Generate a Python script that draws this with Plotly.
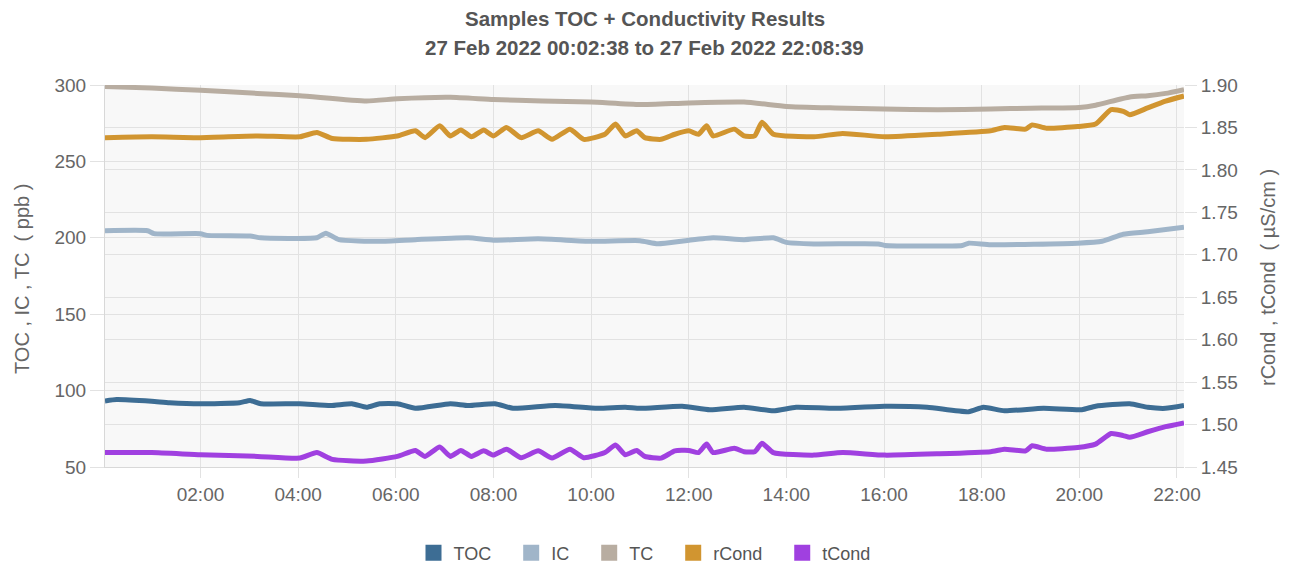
import plotly.graph_objects as go

DAY = "2022-02-27 "

cond_time = ["00:02:38","01:00","02:00","03:10","04:02","04:23","04:42","05:24","06:02","06:24",
             "06:36","06:54","07:07","07:20","07:33","07:48","08:00","08:16","08:34","08:55",
             "09:12","09:34","09:51","10:17","10:30","10:42","10:56","11:06","11:26","11:43",
             "12:00","12:12","12:22","12:30","12:56","13:08","13:21","13:30","13:44","14:34",
             "15:09","16:01","17:06","18:11","18:28","18:54","19:02","19:20","19:58","20:20",
             "20:39","20:54","21:02","21:24","21:46","22:08:39"]
rcond = [1.838,1.839,1.838,1.840,1.839,1.844,1.837,1.836,1.840,1.846,
         1.838,1.852,1.840,1.847,1.839,1.847,1.840,1.850,1.838,1.846,
         1.836,1.848,1.836,1.842,1.854,1.840,1.846,1.838,1.836,1.842,
         1.846,1.842,1.852,1.840,1.848,1.840,1.840,1.856,1.842,1.839,
         1.843,1.839,1.842,1.846,1.850,1.848,1.853,1.849,1.851,1.854,
         1.871,1.869,1.865,1.873,1.881,1.887]
tcond = [1.467,1.467,1.4645,1.4625,1.4605,1.467,1.459,1.457,1.4625,1.4695,
         1.4625,1.4735,1.4625,1.4695,1.4625,1.469,1.464,1.471,1.461,1.469,
         1.4605,1.471,1.461,1.467,1.476,1.4645,1.4695,1.4625,1.4605,1.469,
         1.4695,1.467,1.477,1.467,1.472,1.468,1.468,1.478,1.467,1.464,
         1.467,1.464,1.4655,1.468,1.471,1.469,1.475,1.471,1.473,1.477,
         1.4895,1.487,1.485,1.4915,1.4975,1.502]

toc_time = ["00:02:38","00:17","01:00","01:22","02:00","02:48","03:01","03:14","04:02","04:40",
            "05:06","05:24","05:40","06:02","06:24","07:07","07:29","08:02","08:24","09:16",
            "10:08","10:42","11:00","11:52","12:26","13:08","13:44","14:12","15:00","16:01",
            "16:53","17:44","18:02","18:28","19:16","20:03","20:20","21:02","21:24","21:46",
            "22:08:39"]
toc = [93.2,94.1,93.0,92.1,91.4,92.1,93.6,91.4,91.4,90.2,
       91.4,89.1,91.4,91.4,88.4,91.4,90.2,91.4,88.4,90.2,
       88.4,89.1,88.4,89.8,87.5,89.1,86.8,89.1,88.4,89.8,
       89.1,86.1,89.1,86.8,88.4,87.5,89.8,91.4,89.1,88.4,
       90.2]

ic_time = ["00:02:38","00:55","01:03","02:00","02:08","03:01","03:14","04:23","04:34","04:50",
           "05:40","06:24","07:29","08:00","08:55","10:00","11:00","11:22","11:56","12:30",
           "13:08","13:44","14:00","14:34","15:53","16:01","17:36","17:44","18:11","19:58",
           "20:28","20:54","21:24","22:08:39"]
ic = [204.6,204.6,202.7,202.7,201.6,201.2,200.0,200.0,203.0,198.8,
      197.7,198.8,200.0,198.4,199.3,197.7,198.1,196.1,198.1,200.0,
      198.8,200.0,197.0,196.0,196.0,195.0,195.0,196.5,195.5,196.5,
      197.7,202.3,203.9,206.9]

tc_time = ["00:02:38","01:00","02:00","03:10","04:02","05:24","06:02","07:07","08:00","09:00",
           "10:00","11:00","12:00","13:08","14:00","15:00","16:00","17:06","18:11","19:00",
           "20:00","20:20","21:02","21:24","21:46","22:08:39"]
tc = [299,298,296.5,294.5,293,289.5,291,292,290.5,289.5,
      288.8,287.2,288.3,288.8,286,285,284.3,283.8,284.3,284.8,
      285.3,286.8,292.2,293,294.5,297]

names = ["TOC", "IC", "TC", "rCond", "tCond"]
colors = ["#3d6d94", "#a0b5c9", "#b8ada1", "#d19530", "#a040e0"]

def ts(lst):
    return [DAY + (t if t.count(":") == 2 else t + ":00") for t in lst]

series = [
    (ts(toc_time), toc, "y"),
    (ts(ic_time), ic, "y"),
    (ts(tc_time), tc, "y"),
    (ts(cond_time), rcond, "y2"),
    (ts(cond_time), tcond, "y2"),
]

fig = go.Figure()
for (x, y, ax), name, col in zip(series, names, colors):
    fig.add_trace(go.Scatter(x=x, y=y, yaxis=ax, mode="lines", name=name,
                             line=dict(color=col, width=5, shape="spline", smoothing=0.5),
                             showlegend=False))
# legend entries with square swatches (non-breaking spaces widen the gaps between entries)
PAD = "\u00a0" * 3
for i, (name, col) in enumerate(zip(names, colors)):
    label = name + (PAD if i < len(names) - 1 else "")
    fig.add_trace(go.Scatter(x=[None], y=[None], mode="markers", name=label,
                             marker=dict(symbol="square", size=16, color=col)))

FONT = "Liberation Sans, Arial, sans-serif"
grid = "#e2e2e2"
# page is offset by the 8px body margin; plot box in page coords: x 105..1184, y 85..467
PLOT_L, PLOT_R = 105, 1184
PLOT_TOP, PLOT_BOT = 85, 467

def py(pix):
    return (PLOT_BOT - pix) / (PLOT_BOT - PLOT_TOP)

def px(pix):
    return (pix - PLOT_L) / (PLOT_R - PLOT_L)

W, H = 1283, 562

fig.update_layout(
    width=W, height=H,
    margin=dict(l=97, r=107, t=77, b=103),
    paper_bgcolor="white",
    plot_bgcolor="#f8f8f8",
    font=dict(family=FONT, color="#666", size=18),
    xaxis=dict(
        type="date",
        range=[DAY + "00:02:38", DAY + "22:08:39"],
        tick0=DAY + "00:00:00", dtick=7200000, tickformat="%H:%M",
        showgrid=True, gridcolor=grid, gridwidth=1,
        ticks="outside", ticklen=10, tickcolor=grid,
        tickfont=dict(size=19, color="#666"),
        showline=True, linecolor="#d8d8d8",
        zeroline=False, automargin=False,
    ),
    yaxis=dict(
        range=[50, 300], dtick=50,
        showgrid=True, gridcolor=grid,
        ticks="outside", ticklen=14, tickcolor=grid,
        tickfont=dict(size=19, color="#666"),
        showline=True, linecolor="#d8d8d8",
        zeroline=False, automargin=False,
    ),
    yaxis2=dict(
        range=[1.45, 1.90], dtick=0.05, tickformat=".2f",
        overlaying="y", side="right",
        showgrid=True, gridcolor=grid,
        ticks="outside", ticklen=12, tickcolor=grid,
        tickfont=dict(size=19, color="#666"),
        zeroline=False, automargin=False,
    ),
    legend=dict(
        orientation="h", x=0.5, xanchor="center",
        yref="container", y=1 - 545 / H, yanchor="middle",
        font=dict(size=18, color="#555"),
        itemsizing="trace",
    ),
    annotations=[
        dict(text="<b>Samples TOC + Conductivity Results</b>", xref="paper", yref="paper",
             x=0.5, y=py(18), xanchor="center", yanchor="middle", showarrow=False,
             font=dict(size=20.5, color="#555", family=FONT)),
        dict(text="<b>27 Feb 2022 00:02:38 to 27 Feb 2022 22:08:39</b>", xref="paper", yref="paper",
             x=0.5, y=py(47), xanchor="center", yanchor="middle", showarrow=False,
             font=dict(size=20.5, color="#555", family=FONT)),
        dict(text="TOC , IC , TC  ( ppb )", xref="paper", yref="paper", textangle=-90,
             x=px(22), y=py(279), xanchor="center", yanchor="middle", showarrow=False,
             font=dict(size=20, color="#666", family=FONT)),
        dict(text="rCond , tCond  ( µS/cm )", xref="paper", yref="paper", textangle=-90,
             x=px(1268), y=py(277), xanchor="center", yanchor="middle", showarrow=False,
             font=dict(size=20, color="#666", family=FONT)),
    ],
)

fig.write_html("out.html")
